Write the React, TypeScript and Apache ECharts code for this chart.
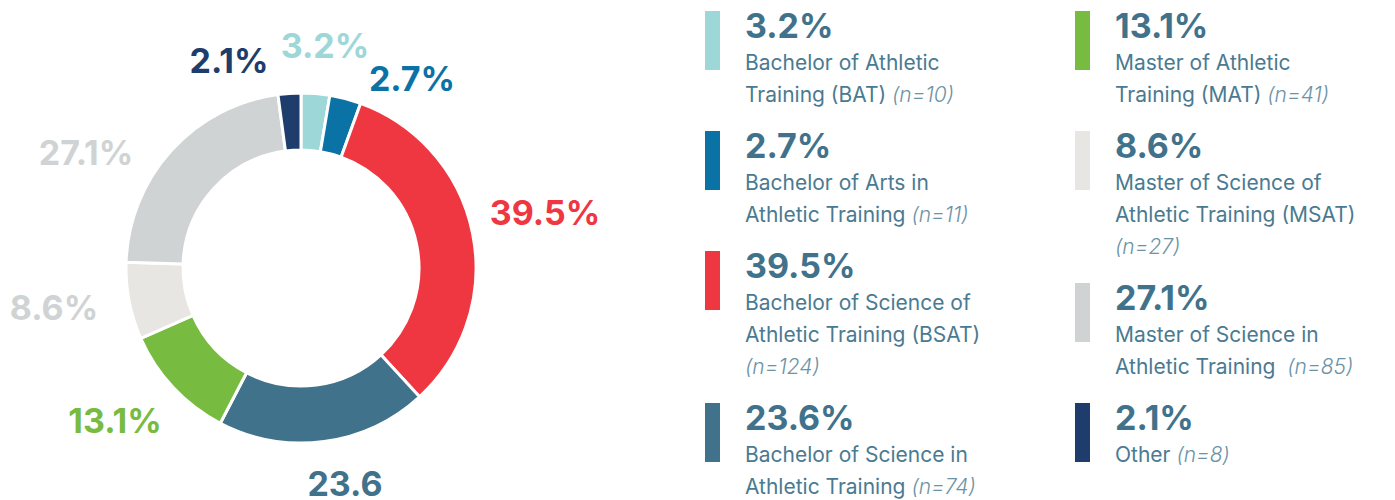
import React, { useEffect, useRef } from "react";
import * as echarts from "echarts";

// ---- data ----
const categories = [
  "Bachelor of Athletic Training (BAT)",
  "Bachelor of Arts in Athletic Training",
  "Bachelor of Science of Athletic Training (BSAT)",
  "Bachelor of Science in Athletic Training",
  "Master of Athletic Training (MAT)",
  "Master of Science of Athletic Training (MSAT)",
  "Master of Science in Athletic Training",
  "Other",
];
const nCounts = [10, 11, 124, 74, 41, 27, 85, 8];
const pctLabels = ["3.2%", "2.7%", "39.5%", "23.6%", "13.1%", "8.6%", "27.1%", "2.1%"];
const chartLabels = ["3.2%", "2.7%", "39.5%", "23.6", "13.1%", "8.6%", "27.1%", "2.1%"];
const legendLines = [
  ["Bachelor of Athletic", "Training (BAT)"],
  ["Bachelor of Arts in", "Athletic Training"],
  ["Bachelor of Science of", "Athletic Training (BSAT)"],
  ["Bachelor of Science in", "Athletic Training"],
  ["Master of Athletic", "Training (MAT)"],
  ["Master of Science of", "Athletic Training (MSAT)"],
  ["Master of Science in", "Athletic Training"],
  ["Other"],
];
const nSeparators = [" ", " ", "\n", " ", " ", "\n", "  ", " "];

// ---- styles ----
const sliceColors = ["#9dd7d7", "#0b72a6", "#ef3742", "#41728b", "#78bb41", "#e8e6e2", "#d0d3d4", "#1f3d6c"];
const labelColors = ["#9dd7d7", "#0b72a6", "#ef3742", "#41728b", "#78bb41", "#d0d3d4", "#d0d3d4", "#1f3d6c"];
const labelPos = [
  [325, 45], [412, 78], [545, 212], [345, 483], [115, 420], [54, 307], [86, 152], [229, 60],
];
const TEXT = "#41728b";
const FONT = "Inter, 'Noto Sans', sans-serif";

export default function App() {
  const ref = useRef<HTMLDivElement>(null);
  useEffect(() => {
    const chart = echarts.init(ref.current!, undefined, { renderer: "svg" });

    // legend built as graphic elements
    const graphics: any[] = [];
    const columns = [[0, 1, 2, 3], [4, 5, 6, 7]];
    const colX = [705, 1075];
    columns.forEach((col, ci) => {
      let top = 11;
      col.forEach((idx) => {
        const x = colX[ci];
        const desc = legendLines[idx].join("\n") + nSeparators[idx] + "{n|(n=" + nCounts[idx] + ")}";
        const lineCount = desc.split("\n").length;
        graphics.push({
          type: "rect",
          shape: { x, y: top, width: 15, height: 59 },
          style: { fill: sliceColors[idx] },
        });
        graphics.push({
          type: "text",
          x: x + 40,
          y: top + 14,
          style: {
            text: pctLabels[idx],
            fill: TEXT,
            font: `bold 34px ${FONT}`,
            verticalAlign: "middle",
          },
        });
        graphics.push({
          type: "text",
          x: x + 40,
          y: top + 35,
          style: {
            text: desc,
            fill: "#4a7a91",
            fontFamily: FONT,
            fontSize: 21,
            fontWeight: 400,
            lineHeight: 32,
            verticalAlign: "top",
            rich: {
              n: {
                fontStyle: "italic",
                fontWeight: 300,
                fontFamily: FONT,
                fontSize: 21,
                fill: "#6c93a6",
                lineHeight: 32,
              },
            },
          },
        });
        top += 56 + 32 * lineCount;
      });
    });

    chart.setOption({
      animation: false,
      graphic: graphics,
      series: [
        {
          type: "pie",
          center: [301, 268],
          radius: [118, 175],
          startAngle: 90,
          clockwise: true,
          avoidLabelOverlap: false,
          itemStyle: { borderColor: "#ffffff", borderWidth: 3 },
          emphasis: { disabled: true },
          labelLine: { show: false },
          label: {
            show: true,
            position: "outside",
            fontFamily: FONT,
            fontWeight: "bold",
            fontSize: 34,
            formatter: (p: any) => chartLabels[p.dataIndex],
          },
          labelLayout: (p: any) => ({
            x: labelPos[p.dataIndex][0],
            y: labelPos[p.dataIndex][1],
            align: "center",
            verticalAlign: "middle",
          }),
          data: categories.map((name, i) => ({
            name,
            value: nCounts[i],
            itemStyle: { color: sliceColors[i] },
            label: { color: labelColors[i] },
          })),
        },
      ],
    });
    return () => chart.dispose();
  }, []);
  return (
    <div
      ref={ref}
      style={{ position: "absolute", left: 0, top: 0, width: 1395, height: 500, background: "#ffffff" }}
    />
  );
}
